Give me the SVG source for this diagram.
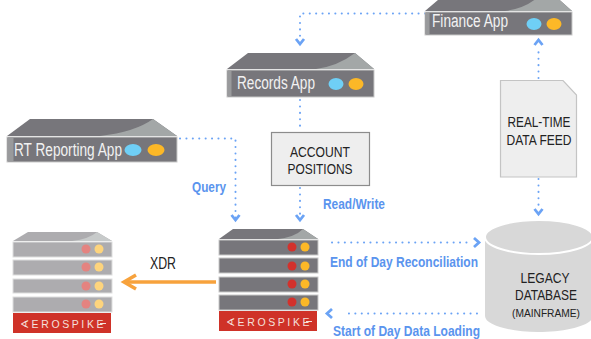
<svg xmlns="http://www.w3.org/2000/svg" width="591" height="339" viewBox="0 0 591 339">
<defs>
<style>
.t{font-family:"Liberation Sans",Arial,sans-serif}
.app{font-size:18px;fill:#f2f2f2}
.blk{font-size:14.500px;fill:#222}
.lbl{font-size:14px;font-weight:bold;fill:#5a94ee}
.dot{fill:none;stroke:#6ba3f5;stroke-width:2;stroke-linecap:round;stroke-dasharray:.1 6.3}
.head{fill:none;stroke:#6ba3f5;stroke-width:2.800}
.body{fill:#77767b;stroke:#c9c9c9;stroke-width:1}
.strip{fill:#999a9c}
.top{fill:#77767b}
.sheen{fill:#a3a7a7}
.rdot{fill:#d3312c}
.ydot{fill:#fcb827}
.bdot{fill:#6fcff6}
.logo{font-size:10.500px;fill:#f4e0dc;letter-spacing:2.600px}
.logoline{stroke:#f4e0dc;stroke-width:1;fill:none}
</style>
</defs>
<g id="connectors">
<path class="dot" d="M425 13.500H300V42"/>
<path class="head" d="M296 39l4 5 4-5"/>
<path class="dot" d="M538.500 78V48"/>
<path class="head" d="M534.500 45l4-5 4 5"/>
<path class="dot" d="M300 100V130"/>
<path class="dot" d="M300 188V218"/>
<path class="head" d="M296 215l4 5 4-5"/>
<path class="dot" d="M180 138.500H235.500V218"/>
<path class="head" d="M231.500 215l4 5 4-5"/>
<path class="dot" d="M538.500 179V208"/>
<path class="head" d="M534.500 209l4 5 4-5"/>
<path class="dot" d="M332 242.500H468"/>
<path class="head" d="M474 238l5 4.500-5 4.500"/>
<path class="dot" d="M477 313.500H345"/>
<path class="head" d="M332 309l-5 4.500 5 4.500"/>
<g id="xdr-arrow">
<path d="M216 282H125" fill="none" stroke="#f7a23c" stroke-width="3.500"/>
<path d="M136 275l-12 7 12 7" fill="none" stroke="#f7a23c" stroke-width="3.500"/>
</g>
</g>
<g id="finance-app">
<path class="top" d="M425 11L445 -6H553L572 11Z"/>
<path class="sheen" d="M505 11Q528 8 541 -6H553L572 11Z"/>
<rect class="body" x="425" y="12" width="147" height="23"/>
<rect class="strip" x="425.500" y="13" width="4" height="21"/>
<text class="t app" x="432" y="27" textLength="76" lengthAdjust="spacingAndGlyphs">Finance App</text>
<ellipse class="bdot" cx="534" cy="24" rx="7.500" ry="6"/>
<ellipse class="ydot" cx="554" cy="24" rx="7.500" ry="6"/>
</g>
<g id="records-app">
<path class="top" d="M227 69L248 53H355L374 69Z"/>
<path class="sheen" d="M316 69Q338 66 355 53L374 69Z"/>
<rect class="body" x="227" y="70" width="147" height="27"/>
<rect class="strip" x="227.500" y="71" width="4" height="25"/>
<text class="t app" x="237" y="89" textLength="78" lengthAdjust="spacingAndGlyphs">Records App</text>
<ellipse class="bdot" cx="336" cy="84" rx="7.500" ry="6"/>
<ellipse class="ydot" cx="356" cy="84" rx="7.500" ry="6"/>
</g>
<g id="rt-reporting-app">
<path class="top" d="M7 136L30 119H153L177 136Z"/>
<path class="sheen" d="M100 136Q135 132 153 119L177 136Z"/>
<rect class="body" x="7" y="137" width="170" height="25"/>
<rect class="strip" x="7.500" y="138" width="6" height="23"/>
<text class="t app" x="14" y="156" textLength="108" lengthAdjust="spacingAndGlyphs">RT Reporting App</text>
<ellipse class="bdot" cx="133" cy="150" rx="8.500" ry="6"/>
<ellipse class="ydot" cx="156" cy="150" rx="8.500" ry="6"/>
</g>
<g id="account-positions">
<rect x="271.500" y="132.500" width="98" height="53" fill="#eeeeee" stroke="#8c8c8c" stroke-width="1.200"/>
<text class="t blk" x="320" y="157" text-anchor="middle" textLength="60" lengthAdjust="spacingAndGlyphs">ACCOUNT</text>
<text class="t blk" x="320" y="174" text-anchor="middle" textLength="65" lengthAdjust="spacingAndGlyphs">POSITIONS</text>
</g>
<g id="real-time-data-feed">
<path d="M500.500 80.500H563L576.500 95V177H500.500Z" fill="#eeeeee" stroke="#c4c4c4" stroke-width="1.200"/>
<text class="t blk" x="539" y="127" text-anchor="middle" textLength="63" lengthAdjust="spacingAndGlyphs">REAL-TIME</text>
<text class="t blk" x="539" y="145" text-anchor="middle" textLength="65" lengthAdjust="spacingAndGlyphs">DATA FEED</text>
</g>
<g id="legacy-database">
<path d="M485 237V316C485 325 510 332 538 332C566 332 593 325 593 316V237Z" fill="#d8d8d8"/>
<ellipse cx="539" cy="237" rx="54" ry="17" fill="#d8d8d8" stroke="#fff" stroke-width="2"/>
<text class="t blk" x="545" y="283" text-anchor="middle" textLength="49" lengthAdjust="spacingAndGlyphs">LEGACY</text>
<text class="t blk" x="546" y="300" text-anchor="middle" textLength="62" lengthAdjust="spacingAndGlyphs">DATABASE</text>
<text class="t" x="546" y="317" text-anchor="middle" font-size="11.500" fill="#222" textLength="68" lengthAdjust="spacingAndGlyphs">(MAINFRAME)</text>
</g>
<g id="aerospike-primary">
<path class="top" d="M219 239L233 229H303L318 239Z"/>
<path class="sheen" d="M278 239Q295 237 303 229L318 239Z"/>
<rect class="body" x="219" y="240" width="99" height="15"/>
<rect class="body" x="219" y="258" width="99" height="15"/>
<rect class="body" x="219" y="277" width="99" height="15"/>
<rect class="body" x="219" y="295" width="99" height="15"/>
<circle class="rdot" cx="292" cy="247" r="4.500"/><circle class="ydot" cx="305" cy="247" r="4.500"/>
<circle class="rdot" cx="292" cy="266" r="4.500"/><circle class="ydot" cx="305" cy="266" r="4.500"/>
<circle class="rdot" cx="292" cy="284" r="4.500"/><circle class="ydot" cx="305" cy="284" r="4.500"/>
<circle class="rdot" cx="292" cy="302" r="4.500"/><circle class="ydot" cx="305" cy="302" r="4.500"/>
<rect x="219" y="311" width="98" height="20" fill="#cf3228"/>
<text class="t logo" x="226" y="325.500">∢EROSPIKE</text>
<path class="logoline" d="M306 321.500H312"/>
</g>
<g id="aerospike-replica" opacity=".6">
<path class="top" d="M13 241L28 232H97L112 241Z"/>
<path class="sheen" d="M72 241Q89 239 97 232L112 241Z"/>
<rect class="body" x="13" y="242" width="99" height="15"/>
<rect class="body" x="13" y="260" width="99" height="15"/>
<rect class="body" x="13" y="279" width="99" height="14"/>
<rect class="body" x="13" y="297" width="99" height="15"/>
<circle class="rdot" cx="86" cy="249" r="4.500"/><circle class="ydot" cx="99" cy="249" r="4.500"/>
<circle class="rdot" cx="86" cy="267" r="4.500"/><circle class="ydot" cx="99" cy="267" r="4.500"/>
<circle class="rdot" cx="86" cy="286" r="4.500"/><circle class="ydot" cx="99" cy="286" r="4.500"/>
<circle class="rdot" cx="86" cy="304" r="4.500"/><circle class="ydot" cx="99" cy="304" r="4.500"/>
</g>
<g id="aerospike-replica-logo">
<rect x="13" y="313" width="98" height="20" fill="#cf3228"/>
<text class="t logo" x="20" y="327.500">∢EROSPIKE</text>
<path class="logoline" d="M100 323.500H106"/>
</g>
<g id="labels">
<text class="t" x="150" y="269" font-size="16" fill="#222" textLength="26" lengthAdjust="spacingAndGlyphs">XDR</text>
<text class="t lbl" x="192" y="192" textLength="34" lengthAdjust="spacingAndGlyphs">Query</text>
<text class="t lbl" x="323" y="209" textLength="62" lengthAdjust="spacingAndGlyphs">Read/Write</text>
<text class="t lbl" x="330" y="267" textLength="148" lengthAdjust="spacingAndGlyphs">End of Day Reconciliation</text>
<text class="t lbl" x="333" y="336" textLength="147" lengthAdjust="spacingAndGlyphs">Start of Day Data Loading</text>
</g>
</svg>
